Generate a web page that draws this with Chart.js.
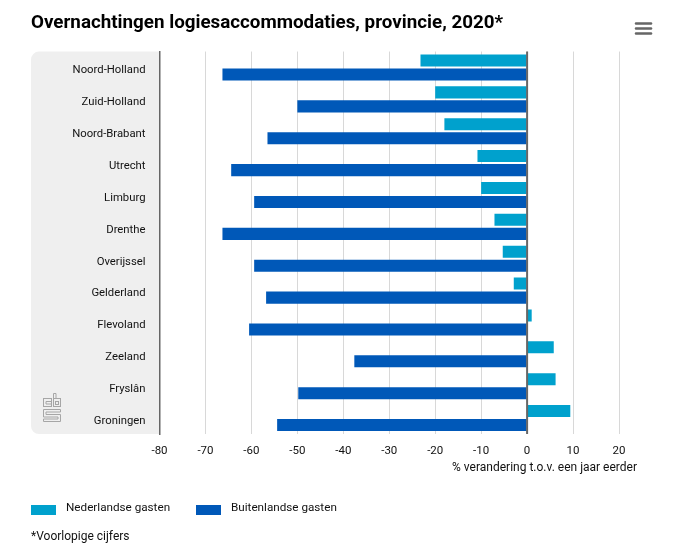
<!DOCTYPE html>
<html>
<head>
<meta charset="utf-8">
<script src="https://cdn.jsdelivr.net/npm/chart.js@4"></script>
<style>
html, body { margin: 0; padding: 0; background: #fff; }
canvas { display: block; }
</style>
</head>
<body>
<canvas id="chart" width="679" height="547"></canvas>
<script>
var categories = ['Noord-Holland', 'Zuid-Holland', 'Noord-Brabant', 'Utrecht', 'Limburg', 'Drenthe', 'Overijssel', 'Gelderland', 'Flevoland', 'Zeeland', 'Fryslân', 'Groningen'];
var nederlandse = [-23.2, -20, -18, -10.8, -10, -7.1, -5.3, -2.9, 1, 5.8, 6.2, 9.4];
var buitenlandse = [-66.3, -50, -56.5, -64.4, -59.4, -66.3, -59.4, -56.8, -60.5, -37.6, -49.8, -54.4];
var seriesNames = ['Nederlandse gasten', 'Buitenlandse gasten'];
var titleText = 'Overnachtingen logiesaccommodaties, provincie, 2020*';
var axisText = '% verandering t.o.v. een jaar eerder';
var noteText = '*Voorlopige cijfers';

var fontName = 'Roboto, sans-serif';
var legendX = [31, 196];

// grey band behind the labels, logo, menu icon, zero line and loose texts
var decor = {
	id: 'decor',
	beforeDraw: function (chart) {
		var c = chart.ctx, a = chart.chartArea;
		c.save();
		c.fillStyle = '#efefef';
		c.beginPath();
		c.roundRect(31, a.top, a.left - 31, a.bottom - a.top, [8, 0, 0, 8]);
		c.fill();

		// cbs logo
		c.strokeStyle = '#a6a6a6';
		c.lineWidth = 1;
		c.strokeRect(43.5, 398.5, 8, 8);
		c.strokeRect(53.5, 398.5, 7, 8);
		c.strokeRect(55.5, 401.5, 3, 3);
		c.beginPath();
		c.moveTo(53.5, 398.5); c.lineTo(53.5, 393.5); c.lineTo(56, 393.5); c.lineTo(56, 398.5);
		c.moveTo(52, 401.5); c.lineTo(46, 401.5); c.lineTo(46, 404); c.lineTo(52, 404);
		c.moveTo(43.5, 409.5); c.lineTo(60.5, 409.5); c.lineTo(60.5, 412); c.lineTo(46, 412);
		c.lineTo(46, 414.5); c.lineTo(60.5, 414.5); c.lineTo(60.5, 421.5); c.lineTo(43.5, 421.5);
		c.lineTo(43.5, 419); c.lineTo(58, 419); c.lineTo(58, 417); c.lineTo(43.5, 417); c.closePath();
		c.stroke();

		// menu icon
		c.strokeStyle = '#666666';
		c.lineWidth = 2.5;
		c.lineCap = 'round';
		[23.5, 28.5, 33.5].forEach(function (y) {
			c.beginPath();
			c.moveTo(636, y);
			c.lineTo(651, y);
			c.stroke();
		});
		c.restore();
	},
	afterDatasetsDraw: function (chart) {
		var c = chart.ctx, a = chart.chartArea;
		var zero = chart.scales.x.getPixelForValue(0);
		c.save();
		c.strokeStyle = '#666666';
		c.lineWidth = 2;
		c.beginPath();
		c.moveTo(zero, a.top);
		c.lineTo(zero, a.bottom);
		c.stroke();

		c.fillStyle = '#111111';
		c.font = '12px ' + fontName;
		c.textBaseline = 'middle';
		c.textAlign = 'right';
		c.fillText(axisText, 637, 468);
		c.textAlign = 'left';
		c.fillText(noteText, 31, 537);

		// legend sits apart from the axis, boxes 25x10
		c.font = '11.7px ' + fontName;
		chart.data.datasets.forEach(function (ds, i) {
			c.fillStyle = ds.backgroundColor;
			c.fillRect(legendX[i], 505, 25, 10);
			c.fillStyle = '#111111';
			c.fillText(ds.label, legendX[i] + 35, 508);
		});
		c.restore();
	}
};

new Chart(document.getElementById('chart'), {
	type: 'bar',
	data: {
		labels: categories,
		datasets: [
			{ label: seriesNames[0], data: nederlandse, backgroundColor: '#00a1cd', barPercentage: 0.86, categoryPercentage: 0.88 },
			{ label: seriesNames[1], data: buitenlandse, backgroundColor: '#0058b8', barPercentage: 0.86, categoryPercentage: 0.88 }
		]
	},
	options: {
		indexAxis: 'y',
		responsive: false,
		animation: false,
		devicePixelRatio: 1,
		layout: { padding: { left: 31, right: 60, top: 0, bottom: 68 } },
		scales: {
			x: {
				min: -80,
				max: 20,
				ticks: { stepSize: 10, color: '#111111', font: { family: fontName, size: 11.5 }, padding: 10, maxRotation: 0 },
				grid: { color: '#d8d8d8', drawTicks: false, lineWidth: 1 },
				border: { display: false },
				afterFit: function (scale) { scale.height = 45; }
			},
			y: {
				ticks: { color: '#111111', font: { family: fontName, size: 11.3 }, padding: 14, labelOffset: 3 },
				grid: { display: false, drawTicks: false },
				border: { color: '#666666', width: 1.5 },
				afterFit: function (scale) { scale.width = 128.5; }
			}
		},
		plugins: {
			title: {
				display: true,
				text: titleText,
				align: 'start',
				color: '#000000',
				font: { family: fontName, size: 18.8, weight: 'bold' },
				padding: { top: 12, bottom: 17 }
			},
			legend: { display: false },
			tooltip: { enabled: false }
		}
	},
	plugins: [decor]
});
</script>
</body>
</html>
